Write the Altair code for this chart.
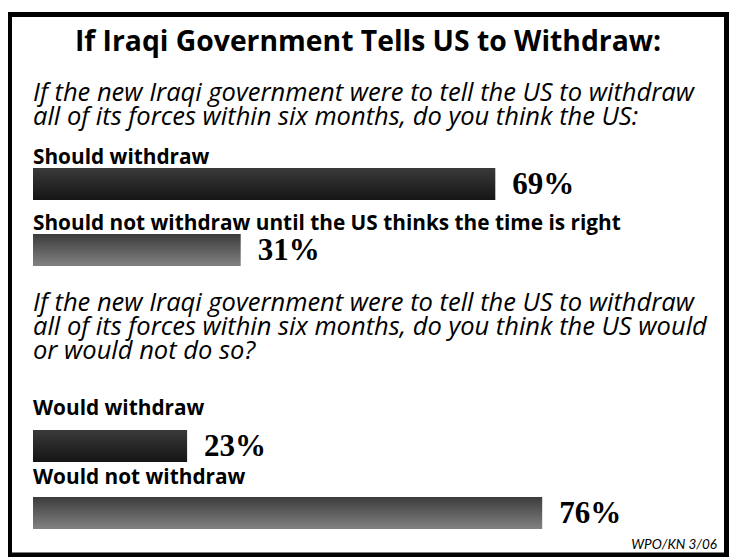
import altair as alt
import pandas as pd

# ---- data ----
title_text = "If Iraqi Government Tells US to Withdraw:"
q1_lines = [
    "If the new Iraqi government were to tell the US to withdraw",
    "all of its forces within six months, do you think the US:",
]
q2_lines = [
    "If the new Iraqi government were to tell the US to withdraw",
    "all of its forces within six months, do you think the US would",
    "or would not do so?",
]
answers = [
    "Should withdraw",
    "Should not withdraw until the US thinks the time is right",
    "Would withdraw",
    "Would not withdraw",
]
values = [69, 31, 23, 76]
shade = ["dark", "gray", "dark", "gray"]
source_text = "WPO/KN 3/06"

# ---- layout (pixels, chart coordinates) ----
W, H = 721, 549
bar_top = [160, 226, 422, 489]
bar_h = 32
label_y = [150, 216, 401, 470]
q1_y0, q2_y0, q_lh = 85, 295, 24

bars = pd.DataFrame({
    "answer": answers,
    "value": values,
    "shade": shade,
    "top": bar_top,
    "bottom": [t + bar_h for t in bar_top],
    "label_y": label_y,
    "val_y": [t + bar_h / 2 + 1 for t in bar_top],
    "zero": [0] * len(values),
})

xscale = alt.Scale(domain=[0, 100], range=[25, 695])

dark_grad = alt.Gradient(
    gradient="linear",
    stops=[alt.GradientStop(color="#3a3a3a", offset=0),
           alt.GradientStop(color="#151515", offset=1)],
    x1=0, x2=0, y1=0, y2=1,
)
gray_grad = alt.Gradient(
    gradient="linear",
    stops=[alt.GradientStop(color="#3c3c3c", offset=0),
           alt.GradientStop(color="#828282", offset=1)],
    x1=0, x2=0, y1=0, y2=1,
)

base = alt.Chart(bars)

dark_bars = base.transform_filter(alt.datum.shade == "dark").mark_bar(
    color=dark_grad, cornerRadius=0
).encode(
    x=alt.X("zero:Q", scale=xscale, axis=None),
    x2="value:Q",
    y=alt.Y("top:Q", scale=None),
    y2="bottom:Q",
)
gray_bars = base.transform_filter(alt.datum.shade == "gray").mark_bar(
    color=gray_grad, cornerRadius=0
).encode(
    x=alt.X("zero:Q", scale=xscale, axis=None),
    x2="value:Q",
    y=alt.Y("top:Q", scale=None),
    y2="bottom:Q",
)

val_labels = base.transform_calculate(
    pct="datum.value + '%'"
).mark_text(
    align="left", baseline="middle", dx=17, font="Liberation Serif",
    fontWeight="bold", fontSize=31, color="black"
).encode(
    x=alt.X("value:Q", scale=xscale, axis=None),
    y=alt.Y("val_y:Q", scale=None),
    text="pct:N",
)

ans_labels = base.mark_text(
    align="left", baseline="middle", font="Open Sans", fontWeight="bold",
    fontSize=20.8, color="black"
).encode(
    x=alt.value(25),
    y=alt.Y("label_y:Q", scale=None),
    text="answer:N",
)

qdf = pd.DataFrame({
    "line": q1_lines + q2_lines,
    "yy": [q1_y0 + i * q_lh for i in range(len(q1_lines))]
          + [q2_y0 + i * q_lh for i in range(len(q2_lines))],
})
questions = alt.Chart(qdf).mark_text(
    align="left", baseline="middle", font="Open Sans", fontStyle="italic",
    fontSize=25.5, color="black"
).encode(
    x=alt.value(25),
    y=alt.Y("yy:Q", scale=None),
    text="line:N",
)

title = alt.Chart(pd.DataFrame({"t": [title_text]})).mark_text(
    align="center", baseline="middle", font="Open Sans", fontWeight="bold",
    fontSize=28.3, color="black"
).encode(x=alt.value(360), y=alt.value(35), text="t:N")

source = alt.Chart(pd.DataFrame({"t": [source_text]})).mark_text(
    align="right", baseline="middle", font="Lato", fontStyle="italic",
    fontSize=13.5, color="black"
).encode(x=alt.value(709), y=alt.value(537), text="t:N")

border = alt.Chart(pd.DataFrame({"b": [1]})).mark_rect(
    fillOpacity=0, stroke="black", strokeWidth=5
).encode(
    x=alt.value(1.5), x2=alt.value(718.5), y=alt.value(6.5), y2=alt.value(547)
)

chart = alt.layer(
    border, title, questions, ans_labels, dark_bars, gray_bars, val_labels, source
).properties(
    width=W, height=H, padding=0, autosize=alt.AutoSizeParams(type="none"),
    background="white",
).configure_view(stroke=None)

chart.save("out.html", embed_options={"renderer": "svg", "actions": False})
